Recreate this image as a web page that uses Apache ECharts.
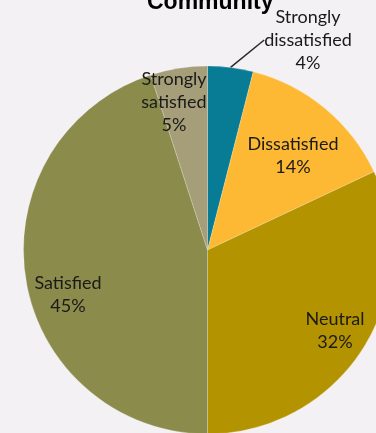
<!DOCTYPE html>
<html>
<head>
<meta charset="utf-8">
<script src="https://cdn.jsdelivr.net/npm/echarts@6/dist/echarts.min.js"></script>
<style>
  html, body { margin: 0; padding: 0; background: #f4f1f5; }
  #chart { width: 376px; height: 433px; }
</style>
</head>
<body>
<div id="chart"></div>
<script>
// Satisfaction levels, in clockwise order from 12 o'clock
const categories = ['Strongly\ndissatisfied', 'Dissatisfied', 'Neutral', 'Satisfied', 'Strongly\nsatisfied'];
const percentages = [4, 14, 32, 45, 5];
const sliceColors = ['#087c95', '#fdb933', '#b49301', '#8b8b4b', '#a59e79'];

// Where each label's centre sits on the page
const labelSpots = [[308, 40], [293, 156], [335, 331], [68, 295], [174, 102]];

const chart = echarts.init(document.getElementById('chart'), null, { renderer: 'canvas' });

chart.setOption({
  backgroundColor: '#f4f1f5',
  animation: false,
  title: {
    text: 'Community',
    left: 142,
    top: -14,
    textStyle: { fontFamily: 'Liberation Sans', fontWeight: 900, fontSize: 23, color: '#000' }
  },
  series: [{
    type: 'pie',
    center: [207.5, 250],
    radius: 184,
    startAngle: 90,
    clockwise: true,
    avoidLabelOverlap: false,
    itemStyle: { borderColor: 'rgba(255,255,255,0.35)', borderWidth: 0.6 },
    label: {
      position: 'inside',
      formatter: p => p.name + '\n' + p.value + '%',
      fontFamily: 'Lato',
      fontSize: 18,
      lineHeight: 23,
      color: '#1a1a1a',
      align: 'center'
    },
    labelLine: { show: false },
    labelLayout: p => {
      const s = labelSpots[p.dataIndex];
      return { x: s[0], y: s[1], align: 'center', verticalAlign: 'middle' };
    },
    data: categories.map((c, i) => {
      const item = { name: c, value: percentages[i], itemStyle: { color: sliceColors[i] } };
      if (i === 0) {
        item.label = { position: 'outside' };
        item.labelLine = { show: true, length: 12, length2: 0, lineStyle: { color: '#2a2a2a', width: 1.5 } };
      }
      return item;
    })
  }]
});
</script>
</body>
</html>
